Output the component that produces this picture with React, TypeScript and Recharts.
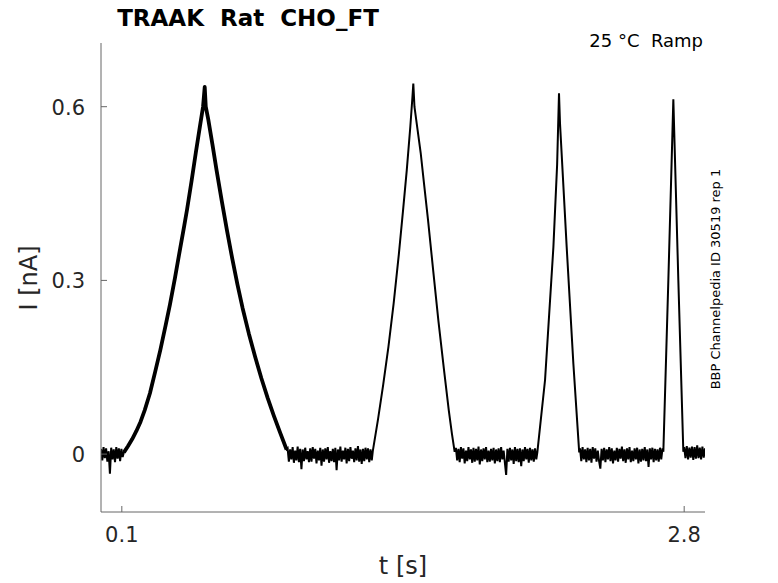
import { LineChart, Line, XAxis, YAxis } from "recharts";

// baseline stretches between the ramps: [start s, end s] and the current samples (nA)
const base0Span = [0, 0.104];
const base0 = [0.009, -0.011, 0.012, -0.007, 0.01, -0.013, 0.005, -0.034, 0.011, -0.009, 0.008, -0.014, 0.012, -0.008, 0.01, -0.012, 0.009, -0.005];

const base1Span = [0.896, 1.3];
const base1 = [
  0.01, -0.013, 0.008, -0.009, 0.012, -0.015, 0.006, -0.011, 0.013, -0.014,
  0.009, -0.026, 0.008, -0.012, 0.011, -0.009, 0.005, -0.014, 0.01, -0.013,
  0.012, -0.008, 0.009, -0.016, 0.006, -0.011, 0.011, -0.02, 0.008, -0.013,
  0.01, -0.009, 0.012, -0.015, 0.005, -0.012, 0.009, -0.014, 0.011, -0.028,
  0.008, -0.011, 0.013, -0.013, 0.006, -0.009, 0.011, -0.016, 0.009, -0.012,
  0.012, -0.008, 0.006, -0.014, 0.01, -0.011, 0.014, -0.013, 0.008, -0.017,
  0.009, -0.012, 0.011, -0.009, 0.01, -0.014, 0.008, -0.011,
];

const base2Span = [1.704, 2.09];
const base2 = [
  0.011, -0.011, 0.009, -0.014, 0.012, -0.008, 0.01, -0.016, 0.006, -0.012,
  0.012, -0.009, 0.008, -0.015, 0.011, -0.013, 0.009, -0.011, 0.013, -0.018,
  0.008, -0.012, 0.01, -0.009, 0.012, -0.014, 0.006, -0.013, 0.009, -0.011,
  0.011, -0.016, 0.008, -0.012, 0.01, -0.014, 0.012, -0.009, 0.006, -0.015,
  -0.036, 0.009, -0.013, 0.011, -0.011, 0.008, -0.017, 0.012, -0.012, 0.009,
  -0.014, 0.01, -0.021, 0.008, -0.012, 0.012, -0.009, 0.009, -0.015, 0.011,
  -0.011, 0.008, -0.013, 0.01, -0.009,
];

const base3Span = [2.3, 2.696];
const base3 = [
  0.01, -0.012, 0.012, -0.009, 0.008, -0.014, 0.011, -0.011, 0.009, -0.015,
  0.012, -0.008, 0.01, -0.013, 0.006, -0.012, -0.025, 0.009, -0.011, 0.011,
  -0.014, 0.008, -0.009, 0.012, -0.012, 0.01, -0.016, 0.006, -0.011, 0.011,
  -0.013, 0.009, -0.008, 0.013, -0.012, 0.008, -0.015, 0.01, -0.009, 0.012,
  -0.014, 0.006, -0.012, 0.01, -0.009, 0.011, -0.016, 0.008, -0.013, 0.009,
  -0.011, 0.012, -0.012, 0.008, -0.022, 0.01, -0.009, 0.011, -0.014, 0.009,
  -0.011, 0.008, -0.013, 0.011, -0.009, 0.01,
];

const base4Span = [2.8, 2.9];
const base4 = [0.012, -0.007, 0.014, -0.009, 0.011, -0.006, 0.013, -0.01, 0.012, -0.008, 0.015, -0.007, 0.011, -0.009, 0.013, -0.006, 0.01];

// ramp responses: [t (s), I (nA)]
const peak1 = [
  [0.11, 0.003], [0.13, 0.014], [0.15, 0.026], [0.17, 0.04], [0.19, 0.056],
  [0.21, 0.076], [0.235, 0.105], [0.26, 0.142], [0.285, 0.18], [0.31, 0.222],
  [0.331, 0.258], [0.355, 0.304], [0.38, 0.355], [0.4, 0.395], [0.413, 0.422],
  [0.435, 0.472], [0.455, 0.52], [0.475, 0.566], [0.49, 0.6], [0.498, 0.634],
  [0.503, 0.6], [0.515, 0.578], [0.535, 0.535], [0.555, 0.49], [0.58, 0.437],
  [0.605, 0.386], [0.63, 0.338], [0.655, 0.293], [0.68, 0.252], [0.71, 0.208],
  [0.74, 0.168], [0.77, 0.131], [0.8, 0.097], [0.83, 0.066], [0.86, 0.037],
  [0.891, 0.008],
];

const peak2 = [
  [1.305, 0.005], [1.33, 0.06], [1.355, 0.12], [1.38, 0.185], [1.405, 0.26],
  [1.43, 0.345], [1.45, 0.42], [1.468, 0.49], [1.485, 0.565], [1.495, 0.615],
  [1.4995, 0.64], [1.505, 0.6], [1.52, 0.56], [1.535, 0.52], [1.55, 0.47],
  [1.57, 0.405], [1.595, 0.317], [1.62, 0.23], [1.647, 0.145], [1.67, 0.075],
  [1.685, 0.035], [1.698, 0.004],
];

const peak3 = [
  [2.095, 0.003], [2.132, 0.128], [2.172, 0.357], [2.19, 0.5], [2.199, 0.623],
  [2.204, 0.57], [2.236, 0.357], [2.268, 0.156], [2.296, 0.003],
];

const peak4 = [
  [2.7, 0.004], [2.724, 0.3], [2.744, 0.56], [2.748, 0.613], [2.752, 0.56],
  [2.772, 0.3], [2.796, 0.004],
];

const xTicks = [0.1, 2.8];
const yTicks = [0, 0.3, 0.6];

type Pt = { t: number; i: number; wide?: number };

const spread = (span: number[], vals: number[]): Pt[] =>
  vals.map((v, k) => ({ t: span[0] + ((span[1] - span[0]) * k) / (vals.length - 1), i: v }));
const pairs = (pts: number[][], wide = false): Pt[] =>
  pts.map(([t, i]) => (wide ? { t, i, wide: i } : { t, i }));

const data: Pt[] = [
  ...spread(base0Span, base0),
  ...pairs(peak1, true),
  ...spread(base1Span, base1),
  ...pairs(peak2),
  ...spread(base2Span, base2),
  ...pairs(peak3),
  ...spread(base3Span, base3),
  ...pairs(peak4),
  ...spread(base4Span, base4),
];

const font = "DejaVu Sans";
const axisGray = "#666666";
const labelColor = "#262626";

const fmt = (v: number) => (v === 0 ? "0" : String(v));

const XTick = (props: any) => {
  const { x, y, payload } = props;
  return (
    <g>
      <line x1={x} y1={y} x2={x} y2={y - 6} stroke={axisGray} strokeWidth={1} />
      <text x={x} y={y + 30} textAnchor="middle" fontFamily={font} fontSize={21} fill={labelColor}>
        {fmt(payload.value)}
      </text>
    </g>
  );
};

const YTick = (props: any) => {
  const { x, y, payload } = props;
  return (
    <g>
      <line x1={x} y1={y} x2={x + 6} y2={y} stroke={axisGray} strokeWidth={1} />
      <text x={x - 16} y={y + 8} textAnchor="end" fontFamily={font} fontSize={21} fill={labelColor}>
        {fmt(payload.value)}
      </text>
    </g>
  );
};

export default function App() {
  return (
    <div style={{ position: "absolute", left: 0, top: 0, width: 778, height: 583, background: "#fff" }}>
      <LineChart width={778} height={583} data={data} margin={{ top: 43, right: 73, bottom: 0, left: 0 }}>
        <XAxis
          type="number"
          dataKey="t"
          domain={[0, 2.9]}
          ticks={xTicks}
          allowDataOverflow
          height={71}
          tickSize={0}
          tickMargin={0}
          tickLine={false}
          axisLine={{ stroke: axisGray, strokeWidth: 1 }}
          tick={<XTick />}
        />
        <YAxis
          type="number"
          domain={[-0.1, 0.71]}
          ticks={yTicks}
          allowDataOverflow
          width={101}
          tickSize={0}
          tickMargin={0}
          tickLine={false}
          axisLine={{ stroke: axisGray, strokeWidth: 1 }}
          tick={<YTick />}
        />
        <Line type="linear" dataKey="i" stroke="#000" strokeWidth={2} dot={false} isAnimationActive={false} />
        <Line type="linear" dataKey="wide" stroke="#000" strokeWidth={3.8} strokeLinejoin="round" dot={false} connectNulls={false} isAnimationActive={false} />
      </LineChart>
      <svg width={778} height={583} style={{ position: "absolute", left: 0, top: 0, pointerEvents: "none" }}>
        <text x={248} y={26} textAnchor="middle" fontFamily={font} fontSize={23} fontWeight="bold" fill="#000" style={{ whiteSpace: "pre" }}>
          {"TRAAK  Rat  CHO_FT"}
        </text>
        <text x={703} y={47} textAnchor="end" fontFamily={font} fontSize={18} fill="#000" style={{ whiteSpace: "pre" }}>
          {"25 °C  Ramp"}
        </text>
        <text x={403} y={574} textAnchor="middle" fontFamily={font} fontSize={24} fill={labelColor}>
          t [s]
        </text>
        <text x={37} y={278} textAnchor="middle" fontFamily={font} fontSize={24} fill={labelColor} transform="rotate(-90 37 278)">
          I [nA]
        </text>
        <text x={719.5} y={279} textAnchor="middle" fontFamily={font} fontSize={13} fill="#000" transform="rotate(-90 719.5 279)">
          BBP Channelpedia ID 30519 rep 1
        </text>
      </svg>
    </div>
  );
}
